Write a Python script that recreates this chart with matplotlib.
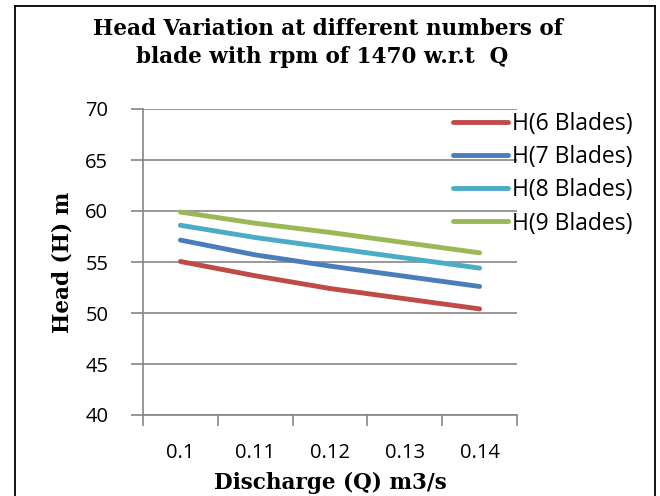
import matplotlib
matplotlib.use("Agg")
import matplotlib.pyplot as plt
from matplotlib.lines import Line2D

categories = ["0.1", "0.11", "0.12", "0.13", "0.14"]
h6 = [55.05, 53.65, 52.4, 51.4, 50.4]
h7 = [57.15, 55.7, 54.6, 53.6, 52.6]
h8 = [58.6, 57.4, 56.4, 55.4, 54.4]
h9 = [59.9, 58.8, 57.9, 56.9, 55.9]
series = [("H(6 Blades)", h6, "#BE4B48"),
          ("H(7 Blades)", h7, "#4A7EBB"),
          ("H(8 Blades)", h8, "#4BACC6"),
          ("H(9 Blades)", h9, "#98B954")]
yticks = [40, 45, 50, 55, 60, 65, 70]

W, H = 660, 496
fig = plt.figure(figsize=(W / 100, H / 100), dpi=100)
L, R, T, B = 143, 517, 109, 415
ax = fig.add_axes([L / W, 1 - B / H, (R - L) / W, (B - T) / H])

x = list(range(len(categories)))
for name, vals, col in series:
    ax.plot(x, vals, color=col, lw=3.5, solid_capstyle="round", label=name)

ax.set_xlim(-0.5, len(categories) - 0.5)
ax.set_ylim(40, 70)
ax.set_yticks(yticks)
grey = "#868686"
ax.grid(axis="y", color=grey, lw=1.2)
ax.set_axisbelow(True)
for s in ["top", "right"]:
    ax.spines[s].set_visible(False)
for s in ["left", "bottom"]:
    ax.spines[s].set_color(grey)
    ax.spines[s].set_linewidth(1.2)

tickfont = "Open Sans"
fs = 14.5
ax.set_xticks([i - 0.5 for i in range(len(categories) + 1)])
ax.set_xticklabels([])
ax.set_xticks(x, minor=True)
ax.set_xticklabels(categories, minor=True, fontsize=fs, family=tickfont)
ax.tick_params(axis="x", which="major", length=8, width=1.2, color=grey, direction="out")
ax.tick_params(axis="x", which="minor", length=0, pad=20)
ax.tick_params(axis="y", length=9, width=1.2, color=grey, direction="out", labelsize=fs, pad=16)
for lab in ax.get_yticklabels():
    lab.set_family(tickfont)

serif = "DejaVu Serif"
fig.text(330 / W, 1 - 489 / H, "Discharge (Q) m3/s", ha="center", va="baseline",
         family=serif, fontweight="bold", fontsize=15.5)
fig.text(63 / W, 1 - 262 / H, "Head (H) m", ha="center", va="center", rotation=90,
         family=serif, fontweight="bold", fontsize=15.5)

fig.text(328 / W, 1 - 35 / H, "Head Variation at different numbers of",
         ha="center", va="baseline", family=serif, fontweight="bold", fontsize=15.5)
fig.text(322 / W, 1 - 63 / H, "blade with rpm of 1470 w.r.t  Q",
         ha="center", va="baseline", family=serif, fontweight="bold", fontsize=15.5)

leg = ax.legend(loc="upper left", bbox_to_anchor=(453 / W, 1 - 112 / H),
                bbox_transform=fig.transFigure,
                frameon=False, prop={"family": tickfont, "size": 16.5},
                handlelength=2.4, handletextpad=0.17, labelspacing=0.40,
                borderpad=0, borderaxespad=0)
leg.set_clip_on(False)

for xs, ys in [((15, 15), (6, 500)), ((15, 655), (6, 6)), ((655, 655), (6, 500))]:
    fig.add_artist(Line2D([v / W for v in xs], [1 - v / H for v in ys],
                          color="black", lw=1.3, transform=fig.transFigure))

fig.savefig("out.png", dpi=100)
